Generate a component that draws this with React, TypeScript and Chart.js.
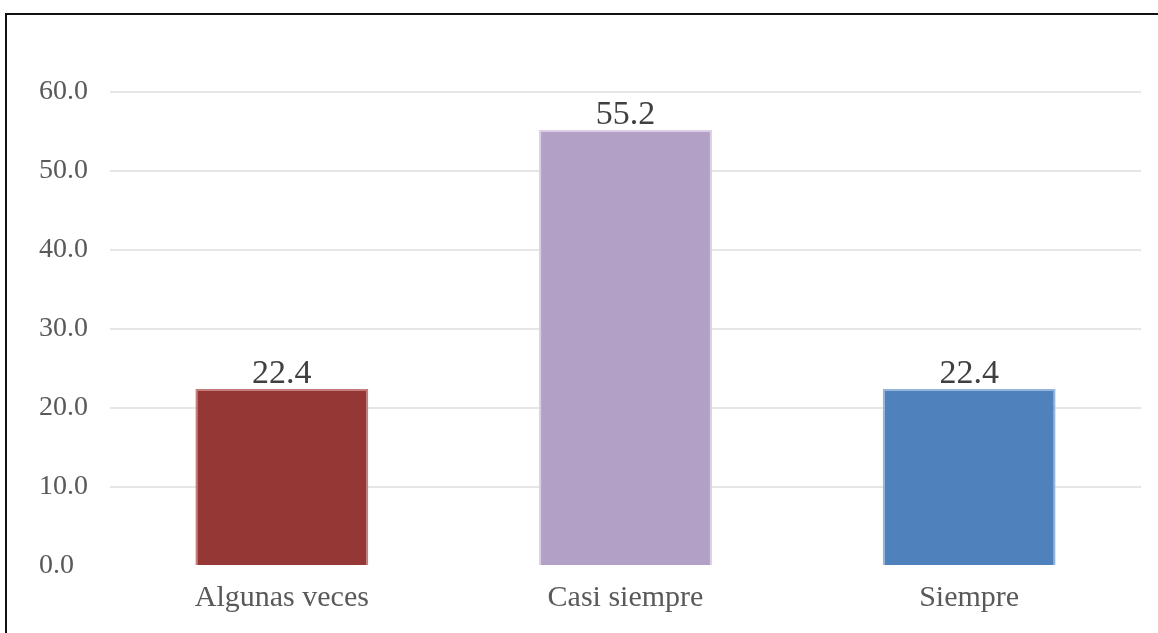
import React, { useEffect, useRef } from "react";
import { Chart, registerables } from "chart.js";

Chart.register(...registerables);

const categories = ["Algunas veces", "Casi siempre", "Siempre"];
const values = [22.4, 55.2, 22.4];
const fillColors = ["#953735", "#B3A0C6", "#4F81BD"];
const borderColors = ["#C47D7B", "#DACFE6", "#96B5DC"];
const yTicks = [0, 10, 20, 30, 40, 50, 60];

const FONT = "'Liberation Serif', 'DejaVu Serif', serif";

const dataLabelPlugin = {
  id: "dataLabels",
  afterDatasetsDraw(chart: any) {
    const { ctx } = chart;
    const meta = chart.getDatasetMeta(0);
    ctx.save();
    ctx.font = `34px ${FONT}`;
    ctx.fillStyle = "#404040";
    ctx.textAlign = "center";
    ctx.textBaseline = "alphabetic";
    meta.data.forEach((bar: any, i: number) => {
      ctx.fillText(values[i].toFixed(1), bar.x, bar.y - 6);
    });
    ctx.restore();
  },
};

export default function App() {
  const ref = useRef<HTMLCanvasElement | null>(null);

  useEffect(() => {
    if (!ref.current) return;
    const chart = new Chart(ref.current, {
      type: "bar",
      data: {
        labels: categories,
        datasets: [
          {
            data: values,
            backgroundColor: fillColors,
            borderColor: borderColors,
            borderWidth: 2,
            barPercentage: 0.503,
            categoryPercentage: 1,
          },
        ],
      },
      options: {
        animation: false,
        responsive: false,
        maintainAspectRatio: false,
        layout: { padding: { left: 39, right: 17, top: 92, bottom: 0 } },
        plugins: {
          legend: { display: false },
          tooltip: { enabled: false },
          title: { display: false },
        },
        scales: {
          x: {
            grid: { display: false, drawTicks: false },
            border: { display: false },
            ticks: {
              font: { family: FONT, size: 30 },
              color: "#595959",
              padding: 14,
              maxRotation: 0,
            },
            afterFit(scale: any) {
              scale.height = 67;
            },
          },
          y: {
            min: 0,
            max: 60,
            afterBuildTicks(scale: any) {
              scale.ticks = yTicks.map((v) => ({ value: v }));
            },
            grid: {
              drawTicks: false,
              lineWidth: 2,
              color: (c: any) => (c.tick && c.tick.value === 0 ? "rgba(0,0,0,0)" : "#E6E6E6"),
            },
            border: { display: false },
            ticks: {
              font: { family: FONT, size: 28 },
              color: "#595959",
              crossAlign: "far",
              callback: (v: any) => Number(v).toFixed(1),
            },
            afterFit(scale: any) {
              scale.width = 71;
            },
          },
        },
      },
      plugins: [dataLabelPlugin],
    });
    return () => chart.destroy();
  }, []);

  return (
    <div style={{ position: "absolute", left: 0, top: 0, width: 1158, height: 633, background: "#fff", overflow: "hidden" }}>
      <div
        style={{
          position: "absolute",
          left: 5,
          top: 13,
          width: 1158,
          height: 640,
          borderLeft: "2px solid #111",
          borderTop: "2px solid #111",
          boxSizing: "border-box",
        }}
      />
      <canvas ref={ref} width={1158} height={633} style={{ position: "absolute", left: 0, top: 0, width: 1158, height: 633 }} />
    </div>
  );
}
